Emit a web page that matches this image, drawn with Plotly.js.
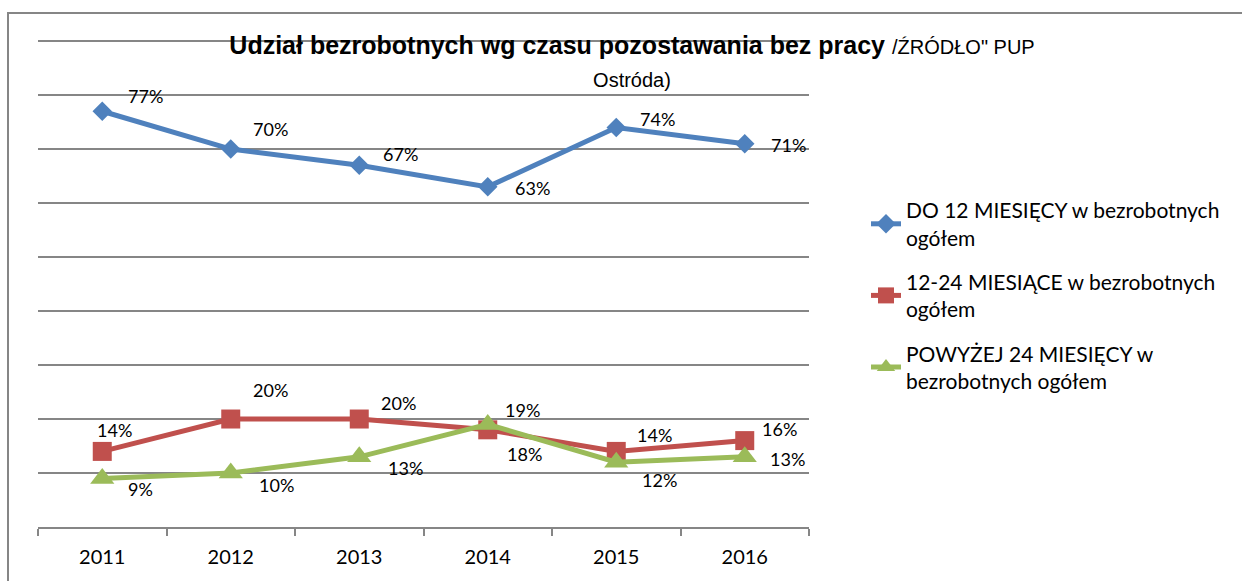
<!DOCTYPE html>
<html>
<head>
<meta charset="utf-8">
<script src="https://cdn.plot.ly/plotly-3.0.1.min.js"></script>
<style>html,body{margin:0;padding:0;background:#fff;}#chart{width:1242px;height:581px;}</style>
</head>
<body>
<div id="chart"></div>
<script>
// ---- data ----
var years = ['2011', '2012', '2013', '2014', '2015', '2016'];
var seriesNames = [
  'DO 12 MIESIĘCY w bezrobotnych<br>ogółem',
  '12-24 MIESIĄCE w bezrobotnych<br>ogółem',
  'POWYŻEJ 24 MIESIĘCY w<br>bezrobotnych ogółem'
];
var do12 = [77, 70, 67, 63, 74, 71];
var m12to24 = [14, 20, 20, 18, 14, 16];
var pow24 = [9, 10, 13, 19, 12, 13];
var titleMain = 'Udział bezrobotnych wg czasu pozostawania bez pracy';
var titleSource = '/ŹRÓDŁO" PUP';
var titleSource2 = 'Ostróda)';

// ---- styling ----
var colors = ['#4F81BD', '#C0504D', '#9BBB59'];
var symbols = ['diamond', 'square', 'triangle-up'];
var msizes = [15, 19, 21];
var labelFont = 'Lato, "Open Sans", sans-serif';
// label offsets in pixels [dx, dy(up positive)]
var offsets = [
  [[43,15],[40,20],[41,11],[45,-1],[41,8],[44,-1]],
  [[12,21],[40,29],[39,16],[37,-24],[38,16],[35,12]],
  [[38,-11],[46,-12],[46,-11],[35,14],[43,-18],[43,-2]]
];

var allSeries = [do12, m12to24, pow24];
var traces = allSeries.map(function (vals, i) {
  return {
    type: 'scatter', mode: 'lines+markers', x: years, y: vals,
    name: seriesNames[i], legendgroup: 'g' + i,
    line: {color: colors[i], width: 5},
    marker: {symbol: symbols[i], size: msizes[i], color: colors[i], line: {width: 0}},
    hoverinfo: 'x+y'
  };
});

var annotations = [];
allSeries.forEach(function (vals, i) {
  vals.forEach(function (v, j) {
    annotations.push({
      xref: 'x', yref: 'y', x: j, y: v, text: v + '%', showarrow: false,
      xshift: offsets[i][j][0], yshift: offsets[i][j][1],
      font: {family: labelFont, size: 18, color: '#000'}
    });
  });
});

var L = 38, R = 809, T = 40, B = 527;
var layout = {
  width: 1242, height: 581,
  margin: {l: L, r: 1242 - R, t: T, b: 581 - B},
  paper_bgcolor: '#fff', plot_bgcolor: '#fff',
  showlegend: true,
  title: {
    text: '<b>' + titleMain + '</b> <span style="font-size:20px">' + titleSource + '<br>' + titleSource2 + '</span>',
    font: {family: '"Liberation Sans", Arial, sans-serif', size: 25, color: '#000'},
    xref: 'container', yref: 'container', x: 632 / 1242, xanchor: 'center', y: 1 - 54 / 581, yanchor: 'top'
  },
  xaxis: {
    type: 'category', range: [-0.5, 5.5], fixedrange: true,
    showline: true, linecolor: '#868686', linewidth: 2,
    ticks: 'outside', tickson: 'boundaries', ticklen: 7, tickwidth: 2, tickcolor: '#868686',
    showgrid: false, zeroline: false, ticklabelstandoff: 11,
    tickfont: {family: labelFont, size: 20, color: '#000'}
  },
  yaxis: {
    range: [0, 90.2], dtick: 10, showticklabels: false, showline: false, ticks: '',
    showgrid: true, gridcolor: '#868686', gridwidth: 1.5, zeroline: false, fixedrange: true
  },
  legend: {
    x: (866 - L) / (R - L), xanchor: 'left', y: (B - 190) / (B - T), yanchor: 'top',
    font: {family: labelFont, size: 21, color: '#000'},
    tracegroupgap: 14, itemwidth: 30, bgcolor: 'rgba(0,0,0,0)'
  },
  annotations: annotations,
  shapes: [{
    type: 'rect', xref: 'paper', yref: 'paper', layer: 'below',
    x0: (8 - L) / (R - L), x1: (1300 - L) / (R - L),
    y0: (B - 650) / (B - T), y1: (B - 13) / (B - T),
    line: {color: '#868686', width: 2}, fillcolor: 'rgba(0,0,0,0)'
  }]
};

Plotly.newPlot('chart', traces, layout, {displayModeBar: false});
</script>
</body>
</html>
